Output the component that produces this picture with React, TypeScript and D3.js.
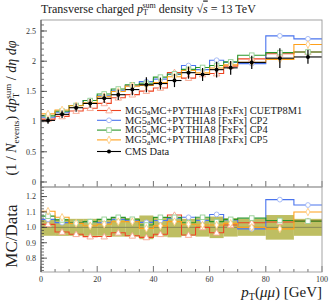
import * as d3 from 'd3';

// bin edges in pT(mumu) [GeV]
const edges = [0, 5, 10, 15, 20, 25, 30, 35, 40, 45, 50, 55, 60, 65, 70, 80, 90, 100];

// CMS data and its uncertainty
const cmsData = [1.02, 1.12, 1.23, 1.3, 1.385, 1.445, 1.53, 1.61, 1.63, 1.68, 1.81, 1.78, 1.86, 1.89, 1.98, 2.05, 2.07];
const cmsErr = [0.056, 0.062, 0.068, 0.072, 0.076, 0.087, 0.092, 0.124, 0.098, 0.109, 0.1, 0.107, 0.13, 0.113, 0.109, 0.164, 0.114];

// MC predictions
const cuetp8m1 = [1.04, 1.086, 1.175, 1.222, 1.302, 1.394, 1.446, 1.505, 1.557, 1.814, 1.72, 1.78, 1.795, 1.918, 2.039, 2.122, 2.153];
const cp2 = [1.073, 1.154, 1.267, 1.348, 1.427, 1.52, 1.596, 1.662, 1.703, 1.781, 1.928, 1.86, 2.016, 1.981, 1.96, 2.419, 2.37];
const cp4 = [1.094, 1.174, 1.267, 1.348, 1.457, 1.539, 1.61, 1.634, 1.736, 1.789, 1.864, 1.896, 1.929, 1.988, 2.099, 2.142, 2.153];
const cp5 = [1.127, 1.193, 1.262, 1.313, 1.413, 1.498, 1.587, 1.599, 1.646, 1.742, 1.846, 1.807, 1.888, 1.939, 1.98, 2.03, 2.277];

const xTicks = [0, 20, 40, 60, 80, 100];
const mainYTicks = [0, 0.5, 1, 1.5, 2, 2.5];
const ratioYTicks = [0.8, 0.9, 1.0, 1.1, 1.2];

const tuneLabels = ['CUETP8M1', 'CP2', 'CP4', 'CP5'];

const FONT = '"Liberation Serif", "DejaVu Serif", serif';

const series = [
  { values: cuetp8m1, color: '#ee4422', light: '#f7a58f', symbol: 'triangle' },
  { values: cp2, color: '#4a74ee', light: '#9fb5f5', symbol: 'circle' },
  { values: cp4, color: '#2a962a', light: '#94d094', symbol: 'square' },
  { values: cp5, color: '#ffa01a', light: '#ffcc80', symbol: 'diamond' },
];

const left = 41;
const right = 322;
const mainTop = 20;
const mainBottom = 187;
const ratioBottom = 272;

const x = d3.scaleLinear().domain([0, 100]).range([left, right]);
const yMain = d3.scaleLinear().domain([-0.083, 2.682]).range([mainBottom, mainTop]);
const yRatio = d3.scaleLinear().domain([0.71, 1.262]).range([ratioBottom, mainBottom]);

const centers = edges.slice(0, -1).map((e, i) => (e + edges[i + 1]) / 2);

function stepPath(vals: number[], y: d3.ScaleLinear<number, number>) {
  const pts: [number, number][] = [];
  vals.forEach((v, i) => {
    pts.push([x(edges[i]), y(v)]);
    pts.push([x(edges[i + 1]), y(v)]);
  });
  return d3.line()(pts) || '';
}

function Marker({ kind, cx, cy, color }: { kind: string; cx: number; cy: number; color: string }) {
  if (kind === 'circle') return <circle cx={cx} cy={cy} r={2.4} fill="white" stroke={color} strokeWidth={0.9} />;
  if (kind === 'square') return <rect x={cx - 2.3} y={cy - 2.3} width={4.6} height={4.6} fill="white" stroke={color} strokeWidth={0.9} />;
  if (kind === 'triangle') {
    const p = d3.symbol().type(d3.symbolTriangle).size(18)() || '';
    return <path d={p} transform={`translate(${cx},${cy + 0.5})`} fill="white" stroke={color} strokeWidth={0.9} />;
  }
  return <path d={`M0,-3.8L2,0L0,3.8L-2,0Z`} transform={`translate(${cx},${cy})`} fill="white" stroke={color} strokeWidth={0.9} />;
}

function MG5({ tune }: { tune: string }) {
  return (
    <>
      MG5
      <tspan fontSize={7.5} dy={1.5}>a</tspan>
      <tspan dy={-1.5}>MC+PYTHIA8 [FxFx] {tune}</tspan>
    </>
  );
}

export default function App() {
  const minorMain = d3.range(0, 2.61, 0.1);
  const minorRatio = d3.range(0.72, 1.261, 0.02);
  const minorX = d3.range(0, 100.1, 5);

  const ratios = series.map((s) => s.values.map((v, i) => v / cmsData[i]));

  return (
    <svg width={332} height={301} style={{ display: 'block', position: 'absolute', left: 0, top: 0 }} fontFamily={FONT}>
      <rect width={332} height={301} fill="white" />

      {/* title */}
      <text x={41} y={12.5} fontSize={12} fill="#222">
        Transverse charged <tspan fontStyle="italic">p</tspan>
        <tspan fontSize={8} dy={2.5}>T</tspan>
        <tspan fontSize={8} dx={-4.8} dy={-7.5}>sum</tspan>
        <tspan dy={5}> density </tspan>
        <tspan>√</tspan>
        <tspan fontStyle="italic" textDecoration="overline">s</tspan>
        <tspan> = 13 TeV</tspan>
      </text>

      {/* main panel */}
      <g>
        {series.map((s, k) => (
          <path key={k} d={stepPath(s.values, yMain)} fill="none" stroke={s.color} strokeWidth={1.1} />
        ))}
        {series.map((s, k) =>
          s.values.map((v, i) => (
            <Marker key={`${k}-${i}`} kind={s.symbol} cx={x(centers[i])} cy={yMain(v)} color={s.light} />
          ))
        )}
        {cmsData.map((v, i) => (
          <g key={i}>
            <line x1={x(edges[i])} x2={x(edges[i + 1])} y1={yMain(v)} y2={yMain(v)} stroke="black" strokeWidth={1.1} />
            <line x1={x(centers[i])} x2={x(centers[i])} y1={yMain(v - cmsErr[i])} y2={yMain(v + cmsErr[i])} stroke="black" strokeWidth={1.2} />
            <circle cx={x(centers[i])} cy={yMain(v)} r={2} fill="black" />
          </g>
        ))}

        {/* legend */}
        {series.map((s, k) => {
          const ly = 110.5 + k * 9.8;
          return (
            <g key={k}>
              <line x1={97} x2={121} y1={ly} y2={ly} stroke={s.color} strokeWidth={1.1} />
              <Marker kind={s.symbol} cx={109} cy={ly} color={s.light} />
              <text x={125} y={ly + 3.3} fontSize={10.4} fill="#222">
                <MG5 tune={tuneLabels[k]} />
              </text>
            </g>
          );
        })}
        <g>
          <line x1={97} x2={121} y1={151.5} y2={151.5} stroke="black" strokeWidth={1.1} />
          <circle cx={109} cy={151.5} r={2} fill="black" />
          <text x={125} y={155} fontSize={10.4} fill="#222">CMS Data</text>
        </g>

        {/* axes */}
        {minorMain.map((t, i) => (
          <line key={i} x1={left} x2={left + 3} y1={yMain(t)} y2={yMain(t)} stroke="#333" strokeWidth={0.7} />
        ))}
        {mainYTicks.map((t) => (
          <g key={t}>
            <line x1={left} x2={left + 6} y1={yMain(t)} y2={yMain(t)} stroke="#333" strokeWidth={0.8} />
            <text x={36} y={yMain(t) + 2.8} fontSize={8} textAnchor="end" fill="#333">{t === 0 ? '0' : d3.format('~g')(t)}</text>
          </g>
        ))}
        {minorX.map((t, i) => (
          <line key={i} x1={x(t)} x2={x(t)} y1={mainBottom} y2={mainBottom - (t % 20 === 0 ? 6 : 3)} stroke="#333" strokeWidth={0.7} />
        ))}
        <rect x={left} y={mainTop} width={right - left} height={mainBottom - mainTop} fill="none" stroke="#999" strokeWidth={0.9} />
        <line x1={left} x2={left} y1={mainTop} y2={mainBottom} stroke="#444" strokeWidth={0.9} />
      </g>

      {/* ratio panel */}
      <g>
        {cmsErr.map((e, i) => {
          const r = e / cmsData[i];
          return (
            <rect key={i} x={x(edges[i])} width={x(edges[i + 1]) - x(edges[i])} y={yRatio(1 + r)} height={yRatio(1 - r) - yRatio(1 + r)} fill="#b3b346" opacity={0.85} />
          );
        })}
        <line x1={left} x2={right} y1={yRatio(1)} y2={yRatio(1)} stroke="#8a8a55" strokeWidth={1} />
        {series.map((s, k) => (
          <path key={k} d={stepPath(ratios[k], yRatio)} fill="none" stroke={s.color} strokeWidth={1.1} />
        ))}
        {series.map((s, k) =>
          ratios[k].map((v, i) => (
            <Marker key={`${k}-${i}`} kind={s.symbol} cx={x(centers[i])} cy={yRatio(v)} color={s.light} />
          ))
        )}

        {minorRatio.map((t, i) => (
          <line key={i} x1={left} x2={left + 3} y1={yRatio(t)} y2={yRatio(t)} stroke="#333" strokeWidth={0.7} />
        ))}
        {ratioYTicks.map((t) => (
          <g key={t}>
            <line x1={left} x2={left + 6} y1={yRatio(t)} y2={yRatio(t)} stroke="#333" strokeWidth={0.8} />
            <text x={36} y={yRatio(t) + 2.8} fontSize={8} textAnchor="end" fill="#333">{t.toFixed(1)}</text>
          </g>
        ))}
        {minorX.map((t, i) => (
          <line key={i} x1={x(t)} x2={x(t)} y1={ratioBottom} y2={ratioBottom - (t % 20 === 0 ? 6 : 3)} stroke="#333" strokeWidth={0.7} />
        ))}
        {xTicks.map((t) => (
          <text key={t} x={x(t)} y={281.5} fontSize={8} textAnchor="middle" fill="#333">{t}</text>
        ))}
        <rect x={left} y={mainBottom} width={right - left} height={ratioBottom - mainBottom} fill="none" stroke="#999" strokeWidth={0.9} />
        <line x1={left} x2={left} y1={mainBottom} y2={ratioBottom} stroke="#444" strokeWidth={0.9} />
      </g>

      {/* axis labels */}
      <text transform="translate(16,108) rotate(-90)" fontSize={14} textAnchor="middle" fill="#222">
        (1 / <tspan fontStyle="italic">N</tspan>
        <tspan fontSize={9} dy={3}>events</tspan>
        <tspan dy={-3}>) </tspan>
        <tspan fontStyle="italic">dp</tspan>
        <tspan fontSize={9} dy={3}>T</tspan>
        <tspan fontSize={9} dx={-5.2} dy={-8.5}>sum</tspan>
        <tspan dy={5.5}> / </tspan>
        <tspan fontStyle="italic">dη dφ</tspan>
      </text>
      <text transform="translate(17,236) rotate(-90)" fontSize={17} textAnchor="middle" fill="#222">
        MC/Data
      </text>
      <text x={322} y={297} fontSize={15} textAnchor="end" fill="#222">
        <tspan fontStyle="italic">p</tspan>
        <tspan fontSize={10} dy={2.5}>T</tspan>
        <tspan dy={-2.5}>(</tspan>
        <tspan fontStyle="italic">μμ</tspan>
        <tspan>)  [GeV]</tspan>
      </text>
    </svg>
  );
}
